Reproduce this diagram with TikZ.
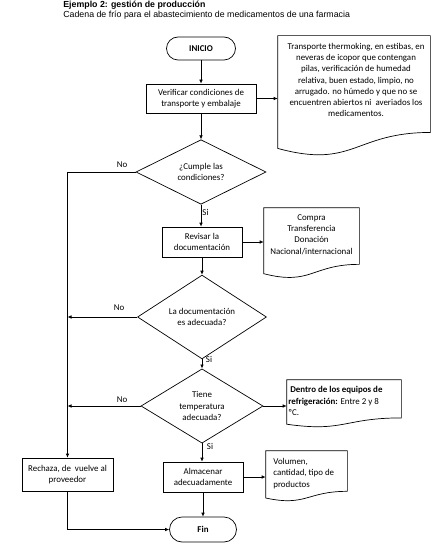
\documentclass[tikz,border=0pt]{standalone}
\usepackage{fontspec}
\setmainfont{Carlito}
\newfontfamily\arialf{Liberation Sans}
\usetikzlibrary{calc,shapes.geometric,arrows.meta}
\begin{document}
\begin{tikzpicture}[x=1pt,y=-1pt,line width=0.7pt,>={Latex[length=4pt,width=3.6pt]}]
\useasboundingbox (0,0) rectangle (447,553);
\tikzset{
  txt/.style={font=\fontsize{8.9}{11.3}\selectfont,align=center,inner sep=0pt},
  ltxt/.style={font=\fontsize{8.9}{11.6}\selectfont,align=left,inner sep=0pt},
  proc/.style={draw,txt,rectangle},
  term/.style={draw,txt,rectangle,rounded corners=#1},
  dec/.style={draw,txt,diamond,inner sep=0pt},
  docframe/.style={rectangle,draw=none,inner sep=0pt},
  lbl/.style={font=\fontsize{8.9}{10}\selectfont,inner sep=0pt},
  docshape/.style={draw}
}
% titles
\node[anchor=base west,inner sep=0pt,font=\arialf\bfseries\fontsize{8.8}{10}\selectfont] (title) at (63,7.5) {Ejemplo 2: gestión de producción};
\node[anchor=base west,inner sep=0pt,font=\arialf\fontsize{8.8}{10}\selectfont] (subtitle) at (63,17.5) {Cadena de frío para el abastecimiento de medicamentos de una farmacia};

% main column
\node[term=11.5pt,minimum width=69pt,minimum height=23pt,font=\fontsize{8.9}{11}\selectfont\bfseries] (ini) at (201,48.5) {INICIO};
\node[proc,minimum width=110pt,minimum height=29pt] (ver) at (201,98.5) {Verificar condiciones de\\transporte y embalaje};
\node[dec,minimum width=130pt,minimum height=59pt] (q1) at (201,172) {¿Cumple las\\condiciones?};
\node[proc,minimum width=80pt,minimum height=30pt] (rev) at (202,242) {Revisar la\\documentación};
\node[dec,minimum width=129pt,minimum height=67pt] (q2) at (202,317) {La documentación\\es adecuada?};
\node[dec,minimum width=122pt,minimum height=63pt] (q3) at (202,406) {Tiene\\temperatura\\adecuada?};
\node[proc,minimum width=80pt,minimum height=30pt] (alm) at (203,477) {Almacenar\\adecuadamente};
\node[proc,minimum width=91pt,minimum height=33pt] (rech) at (67.5,474.5) {Rechaza, de\ \ vuelve al\\proveedor};
\node[term=12.5pt,minimum width=67pt,minimum height=25pt,font=\fontsize{8.9}{11}\selectfont\bfseries] (fin) at (203,529.5) {Fin};

% document frames
\node[docframe,minimum width=152pt,minimum height=120pt] (d1) at (354,96) {};
\node[docframe,minimum width=95pt,minimum height=70pt] (d2) at (311.5,243) {};
\node[docframe,minimum width=114pt,minimum height=47pt] (d3) at (344,403.5) {};
\node[docframe,minimum width=81pt,minimum height=50pt] (d4) at (306.5,476) {};
\foreach \d in {d1,d2,d3,d4}{
  \draw[docshape] (\d.north west) -- (\d.north east) -- ($(\d.north east)!0.802!(\d.south east)$)
    .. controls ($(\d.north)!0.802!(\d.south)$) and ($(\d.north)!1.107!(\d.south)$) ..
    ($(\d.north west)!0.934!(\d.south west)$) -- cycle;
}
\node[txt] (d1t) at (356,80) {Transporte thermoking, en estibas, en\\neveras de icopor que contengan\\pilas, verificación de humedad\\relativa, buen estado, limpio, no\\arrugado. no húmedo y que no se\\encuentren abiertos ni\ \ averiados los\\medicamentos.};
\node[txt] (d2t) at (311.5,234.5) {Compra\\Transferencia\\Donación\\Nacional/internacional};
\node[ltxt,anchor=west] (d3t) at (288,401) {\ \textbf{Dentro de los equipos de}\\\textbf{refrigeración:} Entre 2 y 8\\ºC.};
\node[ltxt,anchor=west] (d4t) at (273,473.5) {Volumen,\\cantidad, tipo de\\productos};

% connectors
\draw[->] (ini.south) -- (ini.south |- ver.north);
\draw[->] (ver.east) -- (ver.east -| d1.west);
\draw[->] (ver.south) -- (ver.south |- q1.north);
\draw[->] (q1.west) -| (rech.north);
\draw[->] (q1.south) -- (q1.south |- rev.north);
\draw[->] (rev.east) -- (rev.east -| d2.west);
\draw[->] (rev.south) -- (q2.north);
\draw[->] (q2.west) -- (q2.west -| rech.north);
\draw[->] (q2.south) -- (q3.north);
\draw[->] (q3.west) -- (q3.west -| rech.north);
\draw[->] (q3.east) -- (q3.east -| d3.west);
\draw[->] (q3.south) -- (q3.south |- alm.north);
\draw[->] (alm.east) -- (alm.east -| d4.west);
\draw[->] (alm.south) -- (fin.north);
\draw[->] (rech.south) |- (fin.west);

% labels
\node[lbl] (n1) at (122,165) {No};
\node[lbl] (s1) at (205.5,212) {Si};
\node[lbl] (n2) at (119,308) {No};
\node[lbl] (s2) at (209,359) {Si};
\node[lbl] (n3) at (122,400) {No};
\node[lbl] (s3) at (210,446) {Si};
\end{tikzpicture}
\end{document}
